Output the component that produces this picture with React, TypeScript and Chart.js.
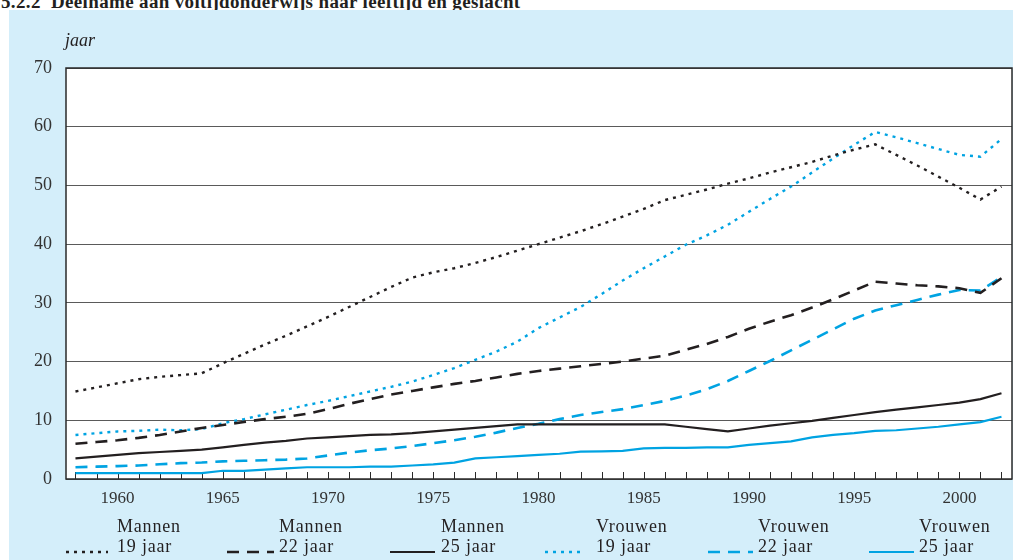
import React, { useEffect, useRef } from "react";
import { Chart, registerables } from "chart.js";

Chart.register(...registerables);

// ---------- data ----------
const years = [
  1958, 1959, 1960, 1961, 1962, 1963, 1964, 1965, 1966, 1967, 1968, 1969, 1970,
  1971, 1972, 1973, 1974, 1975, 1976, 1977, 1978, 1979, 1980, 1981, 1982, 1983,
  1984, 1985, 1986, 1987, 1988, 1989, 1990, 1991, 1992, 1993, 1994, 1995, 1996,
  1997, 1998, 1999, 2000, 2001, 2002,
];

const mannen19 = [
  14.9, 15.6, 16.3, 17.0, 17.4, 17.7, 18.0, 19.7, 21.3, 22.9, 24.4, 26.0, 27.6,
  29.3, 31.0, 32.7, 34.3, 35.2, 35.9, 36.8, 37.8, 38.9, 40.0, 41.1, 42.2, 43.4,
  44.7, 46.0, 47.5, 48.4, 49.3, 50.3, 51.2, 52.2, 53.1, 54.0, 55.1, 56.1, 57.0,
  55.2, 53.4, 51.5, 49.6, 47.6, 49.8,
];
const mannen22 = [
  6.0, 6.3, 6.6, 7.0, 7.5, 8.1, 8.7, 9.2, 9.7, 10.2, 10.6, 11.1, 11.9, 12.8,
  13.6, 14.4, 15.0, 15.6, 16.2, 16.7, 17.3, 17.9, 18.4, 18.8, 19.2, 19.6, 20.0,
  20.5, 21.0, 22.0, 23.0, 24.2, 25.6, 26.8, 27.9, 29.2, 30.6, 32.1, 33.6, 33.3,
  33.0, 32.8, 32.5, 31.7, 34.2,
];
const mannen25 = [
  3.5, 3.8, 4.1, 4.4, 4.6, 4.8, 5.0, 5.4, 5.8, 6.2, 6.5, 6.9, 7.1, 7.3, 7.5,
  7.6, 7.8, 8.1, 8.4, 8.7, 9.0, 9.3, 9.3, 9.3, 9.3, 9.3, 9.3, 9.3, 9.3, 8.9,
  8.5, 8.1, 8.6, 9.1, 9.5, 9.9, 10.4, 10.9, 11.4, 11.8, 12.2, 12.6, 13.0, 13.6,
  14.6,
];
const vrouwen19 = [
  7.5, 7.8, 8.1, 8.2, 8.4, 8.3, 8.5, 9.5, 10.2, 11.0, 11.8, 12.6, 13.3, 14.1,
  14.9, 15.7, 16.6, 17.7, 18.9, 20.3, 21.7, 23.4, 25.7, 27.5, 29.3, 31.5, 33.8,
  35.9, 37.9, 39.9, 41.5, 43.3, 45.5, 47.7, 49.8, 52.2, 54.6, 56.9, 59.1, 58.2,
  57.2, 56.2, 55.2, 54.9, 57.9,
];
const vrouwen22 = [
  2.0, 2.1, 2.2, 2.3, 2.5, 2.7, 2.8, 3.0, 3.1, 3.2, 3.3, 3.5, 4.0, 4.5, 4.9,
  5.2, 5.6, 6.1, 6.6, 7.2, 7.9, 8.7, 9.4, 10.2, 10.9, 11.4, 11.9, 12.6, 13.3,
  14.2, 15.3, 16.7, 18.4, 20.1, 21.9, 23.7, 25.5, 27.3, 28.7, 29.6, 30.5, 31.4,
  32.2, 32.1, 34.4,
];
const vrouwen25 = [
  1.0, 1.0, 1.0, 1.0, 1.0, 1.0, 1.0, 1.4, 1.4, 1.6, 1.8, 2.0, 2.0, 2.0, 2.1,
  2.1, 2.3, 2.5, 2.8, 3.5, 3.7, 3.9, 4.1, 4.3, 4.65, 4.7, 4.8, 5.2, 5.3, 5.3,
  5.4, 5.4, 5.8, 6.1, 6.4, 7.1, 7.5, 7.8, 8.2, 8.3, 8.6, 8.9, 9.3, 9.7, 10.6,
];

const xTickYears = [1960, 1965, 1970, 1975, 1980, 1985, 1990, 1995, 2000];
const yTickValues = [0, 10, 20, 30, 40, 50, 60, 70];

const titleText = "5.2.2  Deelname aan voltijdonderwijs naar leeftijd en geslacht";
const yAxisTitle = "jaar";

// ---------- styles ----------
const BLACK = "#231f20";
const BLUE = "#00a3e2";
const PANEL = "#d4eefa";
const FONT = "'Liberation Serif', 'Times New Roman', serif";
const DOTS = [3, 5];
const DASH = [12, 8];

const series = [
  { line1: "Mannen", line2: "19 jaar", data: mannen19, color: BLACK, dash: DOTS, width: 2.4 },
  { line1: "Mannen", line2: "22 jaar", data: mannen22, color: BLACK, dash: DASH, width: 2.6 },
  { line1: "Mannen", line2: "25 jaar", data: mannen25, color: BLACK, dash: [] as number[], width: 2.2 },
  { line1: "Vrouwen", line2: "19 jaar", data: vrouwen19, color: BLUE, dash: DOTS, width: 2.4 },
  { line1: "Vrouwen", line2: "22 jaar", data: vrouwen22, color: BLUE, dash: DASH, width: 2.6 },
  { line1: "Vrouwen", line2: "25 jaar", data: vrouwen25, color: BLUE, dash: [] as number[], width: 2.2 },
];

// legend layout (pixel positions of sample and text)
const legendPos = [
  { sx: 66, sw: 42, tx: 117 },
  { sx: 227, sw: 47, tx: 279 },
  { sx: 390, sw: 45, tx: 441 },
  { sx: 545, sw: 39, tx: 596 },
  { sx: 708, sw: 45, tx: 758 },
  { sx: 869, sw: 45, tx: 919 },
];

const framePlugin = {
  id: "frame",
  beforeDraw(chart: any) {
    const { ctx, chartArea: a } = chart;
    ctx.save();
    ctx.fillStyle = "#ffffff";
    ctx.fillRect(a.left, a.top, a.right - a.left, a.bottom - a.top);
    ctx.restore();
  },
  beforeDatasetsDraw(chart: any) {
    const { ctx, chartArea: a } = chart;
    const xs = chart.scales.x;
    ctx.save();
    ctx.strokeStyle = "#2a2a2a";
    ctx.lineWidth = 1;
    for (const yr of years) {
      const px = Math.round(xs.getPixelForValue(yr)) + 0.5;
      ctx.beginPath();
      ctx.moveTo(px, a.bottom);
      ctx.lineTo(px, a.bottom - 7);
      ctx.stroke();
    }
    ctx.strokeStyle = "#2a2a2a";
    ctx.lineWidth = 1.5;
    ctx.strokeRect(a.left, a.top, a.right - a.left, a.bottom - a.top);
    ctx.restore();
  },
};

function ChartCanvas() {
  const ref = useRef<HTMLCanvasElement | null>(null);
  useEffect(() => {
    if (!ref.current) return;
    const chart = new Chart(ref.current, {
      type: "line",
      data: {
        datasets: series.map((s) => ({
          label: `${s.line1} ${s.line2}`,
          data: years.map((yr, i) => ({ x: yr, y: s.data[i] })),
          borderColor: s.color,
          borderWidth: s.width,
          borderDash: s.dash,
          borderCapStyle: "butt" as const,
          pointRadius: 0,
          tension: 0,
          fill: false,
        })),
      },
      options: {
        animation: false,
        responsive: false,
        devicePixelRatio: 1,
        layout: { padding: { left: 0, top: 68, right: 1, bottom: 51 } },
        plugins: { legend: { display: false }, tooltip: { enabled: false } },
        scales: {
          x: {
            type: "linear",
            min: 1957.55,
            max: 2002.5,
            afterFit: (s: any) => {
              s.height = 30;
            },
            afterBuildTicks: (s: any) => {
              s.ticks = xTickYears.map((v) => ({ value: v }));
            },
            grid: { display: false, drawTicks: false },
            border: { display: false },
            ticks: {
              padding: 9,
              color: "#333333",
              font: { family: FONT, size: 17 },
              maxRotation: 0,
              autoSkip: false,
              callback: (v: any) => String(v),
            },
          },
          y: {
            type: "linear",
            min: 0,
            max: 70,
            afterFit: (s: any) => {
              s.width = 66;
            },
            afterBuildTicks: (s: any) => {
              s.ticks = yTickValues.map((v) => ({ value: v }));
            },
            grid: { color: "#5a5a5a", lineWidth: 1, drawTicks: false },
            border: { display: false },
            ticks: {
              padding: 14,
              color: "#333333",
              font: { family: FONT, size: 18 },
              callback: (v: any) => String(v),
            },
          },
        },
      },
      plugins: [framePlugin],
    });
    return () => chart.destroy();
  }, []);
  return (
    <canvas
      ref={ref}
      width={1013}
      height={560}
      style={{ position: "absolute", left: 0, top: 0, width: 1013, height: 560 }}
    />
  );
}

export default function App() {
  return (
    <div
      style={{
        position: "absolute",
        left: 0,
        top: 0,
        width: 1013,
        height: 560,
        overflow: "hidden",
        background: "#ffffff",
        fontFamily: FONT,
      }}
    >
      <div
        style={{
          position: "absolute",
          left: 1,
          top: -8,
          fontSize: 19,
          lineHeight: "19px",
          letterSpacing: "0.35px",
          fontWeight: "bold",
          color: "#231f20",
          whiteSpace: "pre",
        }}
      >
        {titleText}
      </div>
      <div
        style={{
          position: "absolute",
          left: 9,
          top: 10,
          width: 1004,
          height: 550,
          background: PANEL,
        }}
      />
      <ChartCanvas />
      <div
        style={{
          position: "absolute",
          left: 65,
          top: 30,
          fontSize: 18,
          fontStyle: "italic",
          color: "#231f20",
        }}
      >
        {yAxisTitle}
      </div>
      {series.map((s, i) => {
        const p = legendPos[i];
        return (
          <React.Fragment key={i}>
            <svg
              width={p.sw}
              height={6}
              style={{ position: "absolute", left: p.sx, top: 549 }}
            >
              <line
                x1={0}
                y1={3}
                x2={p.sw}
                y2={3}
                stroke={s.color}
                strokeWidth={s.width}
                strokeDasharray={s.dash.length ? s.dash.join(" ") : undefined}
              />
            </svg>
            <div
              style={{
                position: "absolute",
                left: p.tx,
                top: 516,
                fontSize: 18,
                lineHeight: "20px",
                letterSpacing: "0.8px",
                color: "#231f20",
                whiteSpace: "nowrap",
              }}
            >
              <div>{s.line1}</div>
              <div>{s.line2}</div>
            </div>
          </React.Fragment>
        );
      })}
    </div>
  );
}
